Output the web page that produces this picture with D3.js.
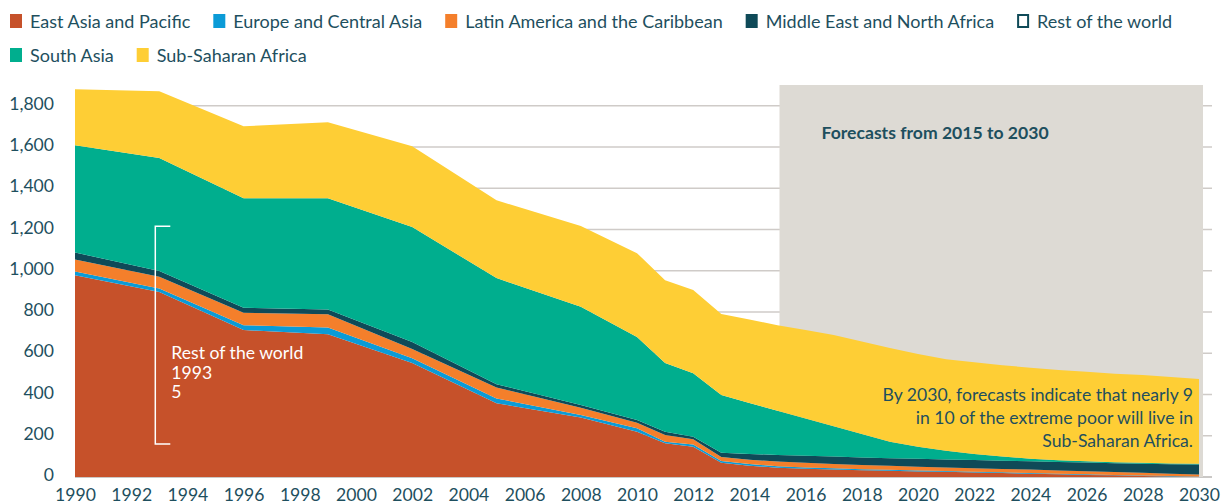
<!DOCTYPE html>
<html>
<head>
<meta charset="utf-8">
<script src="https://cdn.jsdelivr.net/npm/d3@7"></script>
<style>
  body { margin: 0; background: #fff; }
  svg text { font-family: Lato, "Open Sans", sans-serif; }
</style>
</head>
<body>
<div class="poverty"><svg></svg></div>
<script>
// regions, bottom to top of the stack
var regions = ["East Asia and Pacific", "Europe and Central Asia", "Latin America and the Caribbean",
    "Middle East and North Africa", "Rest of the world", "South Asia", "Sub-Saharan Africa"];
var stackOrder = ["East Asia and Pacific", "Europe and Central Asia", "Latin America and the Caribbean",
    "Middle East and North Africa", "South Asia", "Sub-Saharan Africa", "Rest of the world"];

var years = [1990, 1993, 1996, 1999, 2002, 2005, 2008, 2010, 2011, 2012, 2013,
    2014, 2015, 2016, 2017, 2018, 2019, 2020, 2021, 2022, 2023, 2024, 2025, 2026, 2027, 2028, 2029, 2030];

// millions of people in extreme poverty
var eastAsia = [978, 897, 712, 692, 552, 357, 289, 219, 163, 147, 69,
    55, 45, 40, 36, 33, 30, 27, 25, 22, 19, 16, 13, 10, 8, 5, 3, 1];
var europe = [18, 17, 24, 33, 24, 24, 11, 17, 8, 11, 8,
    8, 7, 6, 6, 5, 5, 5, 4, 4, 4, 3, 3, 3, 2, 2, 2, 1];
var latinAmerica = [58, 56, 60, 64, 44, 53, 36, 27, 32, 25, 20,
    21, 23, 23, 21, 20, 19, 18, 17, 17, 16, 17, 16, 15, 14, 13, 11, 10];
var middleEast = [34, 29, 24, 23, 34, 16, 13, 13, 16, 12, 21,
    28, 32, 34, 36, 37, 37, 38, 39, 39, 40, 40, 41, 42, 43, 44, 46, 48];
var southAsia = [520, 547, 531, 539, 558, 514, 476, 403, 334, 308, 279,
    247, 214, 181, 147, 114, 80, 59, 42, 30, 20, 13, 8, 6, 5, 5, 4, 4];
var subSaharan = [271, 324, 349, 369, 391, 377, 392, 406, 401, 403, 393,
    404, 415, 428, 442, 448, 454, 449, 444, 444, 443, 441, 438, 434, 429, 425, 419, 411];
var restOfWorld = [5, 5, 5, 5, 5, 4, 4, 4, 3, 3, 3,
    3, 3, 3, 3, 3, 3, 3, 3, 3, 3, 3, 3, 3, 3, 3, 3, 3];

var yTicks = [0, 200, 400, 600, 800, 1000, 1200, 1400, 1600, 1800];
var xTicks = d3.range(1990, 2031, 2);
var forecastStart = 2015, forecastEnd = 2030;
var forecastTitle = "Forecasts from 2015 to 2030";
var noteLines = ["By 2030, forecasts indicate that nearly 9", "in 10 of the extreme poor will live in", "Sub-Saharan Africa."];
var tipRegion = "Rest of the world", tipYear = 1993, tipValue = 5;

var colors = {
    "East Asia and Pacific": "#c6512a",
    "Europe and Central Asia": "#0b9bd7",
    "Latin America and the Caribbean": "#f47f2b",
    "Middle East and North Africa": "#0f4a58",
    "Rest of the world": "none",
    "South Asia": "#00ae8e",
    "Sub-Saharan Africa": "#fece35"
};
var textColor = "#1e4f5e";
var fontSize = 17.6;

var series = {
    "East Asia and Pacific": eastAsia,
    "Europe and Central Asia": europe,
    "Latin America and the Caribbean": latinAmerica,
    "Middle East and North Africa": middleEast,
    "Rest of the world": restOfWorld,
    "South Asia": southAsia,
    "Sub-Saharan Africa": subSaharan
};

var rows = years.map(function (y, i) {
    var r = { year: y };
    regions.forEach(function (k) { r[k] = series[k][i]; });
    return r;
});

var width = 1229, height = 504;
var svg = d3.select(".poverty").select("svg").attr("width", width).attr("height", height);

var x = d3.scaleLinear().domain([1990, 2030]).range([75, 1199]);
var y = d3.scaleLinear().domain([0, 1900]).range([477, 85]);

/*
    Gridlines
*/
svg.append("g").selectAll("line").data(yTicks).enter().append("line")
    .attr("x1", x(1990)).attr("x2", 1212)
    .attr("y1", function (d) { return y(d); })
    .attr("y2", function (d) { return y(d); })
    .attr("stroke", function (d) { return d === 0 ? "#b9b6b3" : "#cfcbc8"; })
    .attr("stroke-width", 1.5);

// forecast band
svg.append("rect")
    .attr("x", x(forecastStart) + 2)
    .attr("y", y(1900))
    .attr("width", x(forecastEnd) - x(forecastStart) + 2)
    .attr("height", y(0) - y(1900))
    .attr("fill", "#dddad4");

svg.append("text")
    .attr("x", x(forecastStart) + 44)
    .attr("y", 139)
    .attr("font-size", fontSize)
    .attr("font-weight", "bold")
    .attr("fill", textColor)
    .text(forecastTitle);

/*
    Stacked areas
*/
var stack = d3.stack().keys(stackOrder);
var layers = stack(rows);
var area = d3.area()
    .x(function (d) { return x(d.data.year); })
    .y0(function (d) { return y(d[0]); })
    .y1(function (d) { return y(d[1]); });

svg.append("g").selectAll("path").data(layers).enter().append("path")
    .attr("d", area)
    .attr("fill", function (d) { return colors[d.key]; })
    .attr("stroke", "none");

/*
    Axes
*/
var yAxis = svg.append("g")
    .attr("transform", "translate(" + x(1990) + ",-2)")
    .call(d3.axisLeft(y).tickValues(yTicks).tickSize(0).tickPadding(21).tickFormat(d3.format(",")));
yAxis.select(".domain").remove();
yAxis.selectAll("text").attr("font-size", fontSize).attr("fill", textColor)
    .style("font-family", "Lato, 'Open Sans', sans-serif");

var xAxis = svg.append("g")
    .attr("transform", "translate(0," + y(0) + ")")
    .call(d3.axisBottom(x).tickValues(xTicks).tickSize(0).tickPadding(12).tickFormat(d3.format("d")));
xAxis.select(".domain").remove();
xAxis.selectAll("text").attr("font-size", fontSize).attr("fill", textColor)
    .style("font-family", "Lato, 'Open Sans', sans-serif");

/*
    Note in the forecast region
*/
svg.append("g").selectAll("text").data(noteLines).enter().append("text")
    .attr("x", 1193)
    .attr("y", function (d, i) { return 401 + i * 23; })
    .attr("text-anchor", "end")
    .attr("font-size", fontSize)
    .attr("fill", textColor)
    .text(function (d) { return d; });

/*
    Hover tooltip (Rest of the world, 1993)
*/
var tipX = x(tipYear) - 4;
var tip = svg.append("g");
tip.append("path")
    .attr("d", "M" + (tipX + 15) + "," + y(1215) + "H" + tipX + "V" + y(160) + "H" + (tipX + 15))
    .attr("fill", "none")
    .attr("stroke", "#fff")
    .attr("stroke-width", 1.5);
tip.selectAll("text").data([tipRegion, String(tipYear), String(tipValue)]).enter().append("text")
    .attr("x", tipX + 16)
    .attr("y", function (d, i) { return 359 + i * 19.5; })
    .attr("font-size", fontSize)
    .attr("fill", "#fff")
    .text(function (d) { return d; });

/*
    Legend
*/
var legendRows = [regions.slice(0, 5), regions.slice(5)];
legendRows.forEach(function (items, r) {
    var cx = 10;
    var ly = 28 + r * 34;
    items.forEach(function (k) {
        var g = svg.append("g");
        var hollow = colors[k] === "none";
        g.append("rect")
            .attr("x", hollow ? cx + 1 : cx)
            .attr("y", ly - 14 + (hollow ? 1 : 0))
            .attr("width", hollow ? 10 : 12)
            .attr("height", hollow ? 12 : 14)
            .attr("fill", hollow ? "#fff" : colors[k])
            .attr("stroke", hollow ? "#0f4a58" : "none")
            .attr("stroke-width", 2);
        var t = g.append("text")
            .attr("x", cx + 20)
            .attr("y", ly)
            .attr("font-size", 18)
            .attr("fill", textColor)
            .text(k);
        cx += 20 + t.node().getComputedTextLength() + 23;
    });
});
</script>
</body>
</html>
